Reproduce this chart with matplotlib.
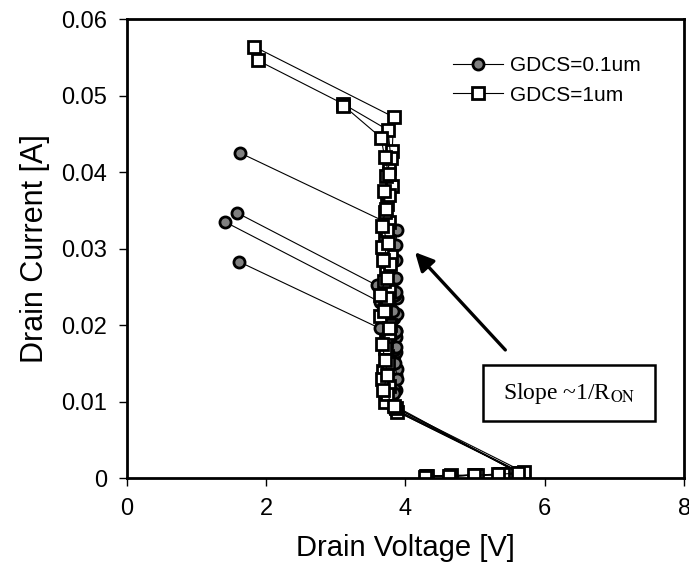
import matplotlib.pyplot as plt
from matplotlib.patches import Rectangle

plt.rcParams['font.family'] = ['Liberation Sans', 'DejaVu Sans']
plt.rcParams['mathtext.fontset'] = 'stix'

# GDCS = 0.1um devices (gray circles), drain voltage [V] / drain current [A]
c1_v = [4.30, 4.65, 5.00, 5.36, 5.66, 3.84, 3.82, 3.86, 3.83, 3.87, 3.84, 3.88, 3.85, 3.87, 3.86, 3.88, 3.71, 1.63]
c1_i = [0.0003, 0.0003, 0.0004, 0.0005, 0.0007, 0.0089, 0.0110, 0.0135, 0.0160, 0.0185, 0.0210, 0.0235, 0.0260, 0.0285, 0.0305, 0.0325, 0.0335, 0.0425]
c2_v = [4.31, 4.66, 5.01, 5.37, 5.67, 3.83, 3.86, 3.82, 3.87, 3.84, 3.88, 3.85, 3.87, 3.59, 1.58]
c2_i = [0.0003, 0.0003, 0.0004, 0.0005, 0.0007, 0.0091, 0.0115, 0.0140, 0.0165, 0.0190, 0.0215, 0.0240, 0.0262, 0.0252, 0.0347]
c3_v = [4.29, 4.63, 4.99, 5.34, 5.64, 3.85, 3.83, 3.88, 3.84, 3.86, 3.82, 3.87, 3.64, 1.41]
c3_i = [0.0003, 0.0003, 0.0004, 0.0005, 0.0006, 0.0093, 0.0118, 0.0143, 0.0168, 0.0193, 0.0218, 0.0243, 0.0230, 0.0335]
c4_v = [4.30, 4.64, 5.00, 5.35, 5.65, 3.86, 3.84, 3.88, 3.85, 3.87, 3.86, 3.63, 1.61]
c4_i = [0.0003, 0.0003, 0.0004, 0.0005, 0.0007, 0.0090, 0.0112, 0.0130, 0.0150, 0.0172, 0.0192, 0.0196, 0.0283]

# GDCS = 1um devices (white squares)
s1_v = [4.29, 4.64, 5.00, 5.35, 5.65, 3.88, 3.70, 3.76, 3.68, 3.74, 3.72, 3.78, 3.70, 3.76, 3.72, 3.79, 3.71, 3.77, 3.74, 3.80, 3.76, 3.81, 3.83, 1.83]
s1_i = [0.0003, 0.0003, 0.0004, 0.0005, 0.0007, 0.0087, 0.0100, 0.0120, 0.0140, 0.0160, 0.0180, 0.0200, 0.0222, 0.0245, 0.0268, 0.0290, 0.0312, 0.0335, 0.0358, 0.0382, 0.0405, 0.0428, 0.0472, 0.0564]
s2_v = [4.31, 4.66, 5.02, 5.40, 5.70, 3.86, 3.73, 3.66, 3.75, 3.70, 3.77, 3.64, 3.74, 3.69, 3.78, 3.66, 3.74, 3.70, 3.77, 3.72, 3.79, 3.75, 3.11, 1.88]
s2_i = [0.0003, 0.0004, 0.0004, 0.0006, 0.0008, 0.0092, 0.0110, 0.0130, 0.0150, 0.0170, 0.0190, 0.0212, 0.0235, 0.0258, 0.0280, 0.0302, 0.0325, 0.0348, 0.0370, 0.0395, 0.0418, 0.0455, 0.0489, 0.0546]
s3_v = [4.28, 4.62, 4.98, 5.33, 5.62, 3.84, 3.68, 3.74, 3.71, 3.66, 3.76, 3.69, 3.63, 3.73, 3.68, 3.75, 3.66, 3.72, 3.69, 3.76, 3.70, 3.65, 3.11]
s3_i = [0.0002, 0.0003, 0.0004, 0.0005, 0.0007, 0.0095, 0.0115, 0.0135, 0.0155, 0.0175, 0.0196, 0.0218, 0.0240, 0.0262, 0.0285, 0.0308, 0.0330, 0.0352, 0.0375, 0.0398, 0.0420, 0.0445, 0.0487]

circle_curves = [(c1_v, c1_i), (c2_v, c2_i), (c3_v, c3_i), (c4_v, c4_i)]
square_curves = [(s1_v, s1_i), (s2_v, s2_i), (s3_v, s3_i)]

fig = plt.figure(figsize=(6.89, 5.79), dpi=100)
ax = fig.add_axes([0.184, 0.174, 0.809, 0.793])

circ_style = dict(color='black', lw=0.8, marker='o', ms=8, mfc='#808080', mec='black', mew=2)
sq_style = dict(color='black', lw=0.8, marker='s', ms=8.5, mfc='white', mec='black', mew=2)

for k, (v, i) in enumerate(circle_curves):
    ax.plot(v, i, label='GDCS=0.1um' if k == 0 else None, **circ_style)
for k, (v, i) in enumerate(square_curves):
    ax.plot(v, i, label='GDCS=1um' if k == 0 else None, **sq_style)

ax.set_xlim(0, 8)
ax.set_ylim(0, 0.06)
ax.set_xticks([0, 2, 4, 6, 8])
ax.set_yticks([0, 0.01, 0.02, 0.03, 0.04, 0.05, 0.06])
ax.set_yticklabels(['0', '0.01', '0.02', '0.03', '0.04', '0.05', '0.06'])
ax.tick_params(direction='out', length=6, width=1, labelsize=17, pad=8)
for sp in ax.spines.values():
    sp.set_linewidth(2)
ax.set_xlabel('Drain Voltage [V]', fontsize=21, labelpad=10)
ax.set_ylabel('Drain Current [A]', fontsize=22, labelpad=8)

ax.legend(loc='upper right', bbox_to_anchor=(0.955, 0.96), frameon=False,
          fontsize=15, handlelength=2.4, handletextpad=0.3, labelspacing=0.5)

# slope annotation
ax.annotate('', xy=(4.11, 0.0298), xytext=(5.46, 0.0165),
            arrowprops=dict(arrowstyle='-|>', color='black', lw=2.4, mutation_scale=28))
ax.add_patch(Rectangle((0.639, 0.124), 0.309, 0.122, transform=ax.transAxes,
                       fc='white', ec='black', lw=1.8, zorder=5))
ax.text(0.7935, 0.185, 'Slope ~1/R$_{\\mathrm{ON}}$', transform=ax.transAxes,
        ha='center', va='center', fontsize=17, family='Liberation Serif', zorder=6)

fig.savefig('out.png', dpi=100)
